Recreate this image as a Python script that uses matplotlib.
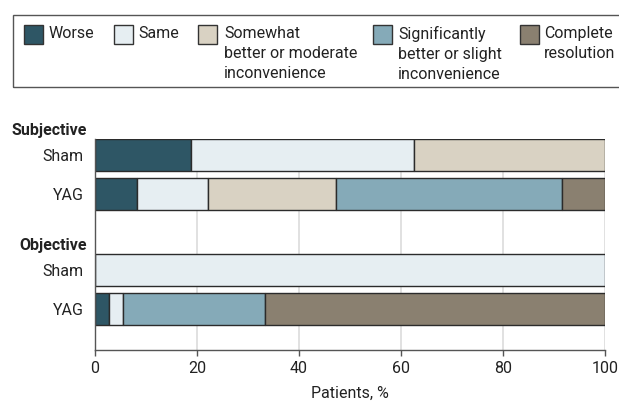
import matplotlib
matplotlib.use('Agg')
import matplotlib.pyplot as plt
from matplotlib.patches import Rectangle
import numpy as np

plt.rcParams['font.family'] = ['Roboto', 'DejaVu Sans']

# Data (percent of patients)
rows = ['Sham', 'YAG', 'Sham', 'YAG']
groups = ['Subjective', 'Objective']
categories = ['Worse', 'Same', 'Somewhat\nbetter or moderate\ninconvenience',
              'Significantly\nbetter or slight\ninconvenience', 'Complete\nresolution']
worse = [18.75, 8.33, 0, 2.78]
same = [43.75, 13.89, 100, 2.78]
somewhat = [37.5, 25.0, 0, 0]
significant = [0, 44.44, 0, 27.78]
complete = [0, 8.34, 0, 66.66]
xticks = [0, 20, 40, 60, 80, 100]

series = [worse, same, somewhat, significant, complete]
colors = ['#2E5665', '#E6EEF2', '#D9D2C3', '#85AAB8', '#8A8070']

W, H = 619, 401
fig = plt.figure(figsize=(W / 100, H / 100), dpi=100)

# plot area in pixels: x 95..605, y 139..350
ax = fig.add_axes([95 / W, 1 - 350 / H, 510 / W, 211 / H])
ypos = np.array([0, 1, 2.95, 3.95])
bar_h = 0.82

for x in xticks[1:]:
    ax.axvline(x, color='#dcdcdc', lw=1.2, zorder=0)

left = np.zeros(len(rows))
for vals, col in zip(series, colors):
    vals = np.array(vals, dtype=float)
    m = vals > 0
    ax.barh(ypos[m], vals[m], left=left[m], height=bar_h, color=col,
            edgecolor='#2b2b2b', linewidth=1.0, zorder=2)
    left += vals

fs = 11.5
ax.set_xlim(0, 100)
ax.set_ylim(5.0, -0.41)
ax.set_yticks(ypos)
ax.set_yticklabels(rows, fontsize=fs, color='#222222')
ax.tick_params(axis='y', length=0, pad=8)
ax.set_xticks(xticks)
ax.set_xticklabels([str(v) for v in xticks], fontsize=fs, color='#222222')
ax.tick_params(axis='x', direction='out', length=4, width=1, color='#555555', pad=4)
ax.set_xlabel('Patients, %', fontsize=fs, color='#222222', labelpad=7)

for s in ['top', 'right']:
    ax.spines[s].set_visible(False)
ax.spines['left'].set_color('#555555')
ax.spines['bottom'].set_color('#555555')
ax.spines['left'].set_linewidth(1)
ax.spines['bottom'].set_linewidth(1)

# group labels
for g, yv in zip(groups, [-0.64, 2.32]):
    ax.text(-0.016, yv, g, transform=ax.get_yaxis_transform(), ha='right', va='center',
            fontsize=fs, fontweight='bold', color='#222222')

# legend box (runs off the right edge of the figure)
def fx(px):
    return px / W

def fy(py):
    return 1 - py / H

fig.add_artist(Rectangle((fx(13), fy(87)), 700 / W, 72 / H, facecolor='none',
                         edgecolor='#555555', lw=1))

sq_x = [24, 114, 198, 373, 520]
tx_x = [49, 138, 224, 398, 544]
for cat, col, sx, tx in zip(categories, colors, sq_x, tx_x):
    fig.add_artist(Rectangle((fx(sx), fy(44)), 19 / W, 19 / H, facecolor=col,
                             edgecolor='#333333', lw=1))
    fig.text(fx(tx), fy(26), cat, ha='left', va='top', fontsize=fs,
             color='#222222', linespacing=1.4)

fig.savefig('out.png', dpi=100)
